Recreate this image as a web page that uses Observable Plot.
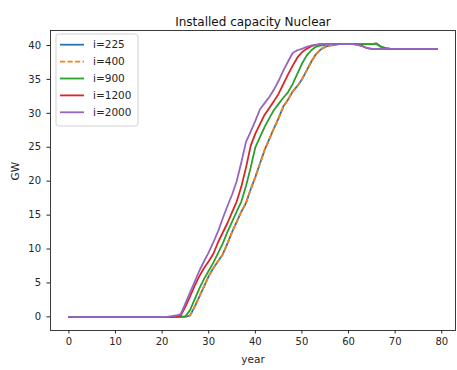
<!DOCTYPE html>
<html>
<head>
<meta charset="utf-8">
<script src="https://cdn.jsdelivr.net/npm/d3@7"></script>
<script src="https://cdn.jsdelivr.net/npm/@observablehq/plot@0.6"></script>
<style>
  html, body { margin: 0; padding: 0; background: white; }
  #chart { width: 457px; height: 370px; }
</style>
</head>
<body>
<div id="chart"></div>
<script>
const seriesNames = ["i=225", "i=400", "i=900", "i=1200", "i=2000"];
const seriesColors = ["#1f77b4", "#ff7f0e", "#2ca02c", "#d62728", "#9467bd"];
const seriesDash = [null, "5.2,2.3", null, null, null];

const i225 = [
  0,0,0,0,0,0,0,0,0,0, 0,0,0,0,0,0,0,0,0,0, 0,0,0,0,0,0,
  0.2,1.5,3.0,4.5,6.0,7.2,8.2,9.2,10.8,12.5,14.0,15.5,16.8,18.8,20.6,22.6,24.6,26.2,27.8,29.3,
  31.0,32.0,33.2,34.0,35.0,36.3,37.6,38.7,39.4,39.8,40.0,40.1,
  40.2,40.2,40.2,40.2,40.2,40.2,40.2,40.2, 40.3,39.8,39.6,
  39.5,39.5,39.5,39.5,39.5,39.5,39.5,39.5,39.5,39.5,39.5
];
const i400 = [
  0,0,0,0,0,0,0,0,0,0, 0,0,0,0,0,0,0,0,0,0, 0,0,0,0,0,0,
  0.2,1.5,3.0,4.5,6.0,7.2,8.2,9.2,10.8,12.5,14.0,15.5,16.8,18.8,20.6,22.6,24.6,26.2,27.8,29.3,
  31.0,32.0,33.2,34.0,35.0,36.3,37.6,38.7,39.4,39.8,40.0,40.1,
  40.2,40.2,40.2,40.2,40.2,40.2,40.2,40.2, 40.3,39.8,39.6,
  39.5,39.5,39.5,39.5,39.5,39.5,39.5,39.5,39.5,39.5,39.5
];
const i900 = [
  0,0,0,0,0,0,0,0,0,0, 0,0,0,0,0,0,0,0,0,0, 0,0,0,0,0,
  0.1,1.0,2.6,4.2,5.6,6.8,8.0,9.4,10.8,12.5,14.0,15.5,17.0,19.3,22.0,25.0,26.5,28.0,29.3,30.5,
  31.4,32.3,33.1,34.3,35.8,37.3,38.5,39.3,39.8,40.0,
  40.1,40.2,40.2,40.2,40.2,40.2,40.2,40.2,40.2,40.2,40.2, 40.2,39.8,39.6,
  39.5,39.5,39.5,39.5,39.5,39.5,39.5,39.5,39.5,39.5,39.5
];
const i1200 = [
  0,0,0,0,0,0,0,0,0,0, 0,0,0,0,0,0,0,0,0,0, 0,0,0,0,
  0.2,1.5,3.0,4.6,6.0,7.2,8.2,9.3,11.0,12.4,13.8,15.4,17.0,19.2,22.0,25.2,27.0,28.4,29.8,30.8,
  31.8,32.9,34.3,35.7,37.0,38.2,39.0,39.5,39.9,40.1,
  40.2,40.2,40.2,40.2,40.2,40.2,40.2,40.2, 40.1,39.9,39.6,
  39.5,39.5,39.5,39.5,39.5,39.5,39.5,39.5,39.5,39.5,39.5,39.5,39.5,39.5,39.5
];
const i2000 = [
  0,0,0,0,0,0,0,0,0,0, 0,0,0,0,0,0,0,0,0,0, 0,0,
  0.1,0.2,0.4,2.0,3.6,5.2,6.8,8.2,9.5,11.0,12.6,14.5,16.3,18.0,20.0,22.8,25.8,27.3,28.9,30.6,
  31.5,32.4,33.5,34.8,36.3,37.6,38.9,39.3,39.5,39.8,40.0,40.1,
  40.2,40.2,40.2,40.2,40.2,40.2,40.2,40.2, 40.1,39.9,39.6,
  39.5,39.5,39.5,39.5,39.5,39.5,39.5,39.5,39.5,39.5,39.5,39.5,39.5,39.5,39.5
];
const seriesValues = [i225, i400, i900, i1200, i2000];

const xTicks = [0, 10, 20, 30, 40, 50, 60, 70, 80];
const yTicks = [0, 5, 10, 15, 20, 25, 30, 35, 40];
const titleText = "Installed capacity Nuclear";
const xLabel = "year";
const yLabel = "GW";

const lineMarks = seriesNames.map((name, k) =>
  Plot.line(seriesValues[k].map((v, i) => ({year: i, value: v, series: name})), {
    x: "year", y: "value",
    stroke: seriesColors[k], strokeWidth: 1.8,
    strokeDasharray: seriesDash[k] || undefined,
    strokeLinejoin: "round", strokeLinecap: seriesDash[k] ? "butt" : "round"
  })
);

const chart = Plot.plot({
  width: 457, height: 370,
  marginLeft: 50, marginRight: 2, marginTop: 30, marginBottom: 40,
  style: {fontFamily: "DejaVu Sans, sans-serif", fontSize: "10px", background: "white", color: "#262626"},
  x: {domain: [-3.95, 82.95]},
  y: {domain: [-2.01, 42.21]},
  marks: [
    Plot.axisX({ticks: xTicks, tickSize: 3.5, tickPadding: 4, label: null, stroke: "#262626", fill: "#262626"}),
    Plot.axisY({ticks: yTicks, tickSize: 3.5, tickPadding: 6, label: null, stroke: "#262626", fill: "#262626"}),
    ...lineMarks,
    Plot.frame({stroke: "#262626", strokeWidth: 0.9}),
    Plot.text([titleText], {text: d => d, frameAnchor: "top", dy: -13, fontSize: 12, fill: "#111"}),
    Plot.text([xLabel], {text: d => d, frameAnchor: "bottom", dy: 32, fontSize: 10.5, fill: "#262626"}),
    Plot.text([yLabel], {text: d => d, frameAnchor: "left", dx: -35, rotate: -90, fontSize: 10.5, fill: "#262626"})
  ]
});

// legend (matplotlib-style box, upper left)
const svg = d3.select(chart);
const lg = svg.append("g").attr("font-family", "DejaVu Sans, sans-serif").attr("font-size", 10.5).attr("text-anchor", "start");
lg.append("rect").attr("x", 56).attr("y", 34).attr("width", 82).attr("height", 92)
  .attr("rx", 2.5).attr("fill", "white").attr("fill-opacity", 0.85).attr("stroke", "#cccccc").attr("stroke-width", 0.9);
seriesNames.forEach((name, k) => {
  const yy = 44.7 + k * 16.9;
  lg.append("line").attr("x1", 60).attr("x2", 84).attr("y1", yy).attr("y2", yy)
    .attr("stroke", seriesColors[k]).attr("stroke-width", 1.8)
    .attr("stroke-dasharray", seriesDash[k]);
  lg.append("text").attr("x", 93).attr("y", yy).attr("dy", "0.35em").attr("text-anchor", "start")
    .attr("fill", "#262626").text(name);
});

document.getElementById("chart").appendChild(chart);
</script>
</body>
</html>
